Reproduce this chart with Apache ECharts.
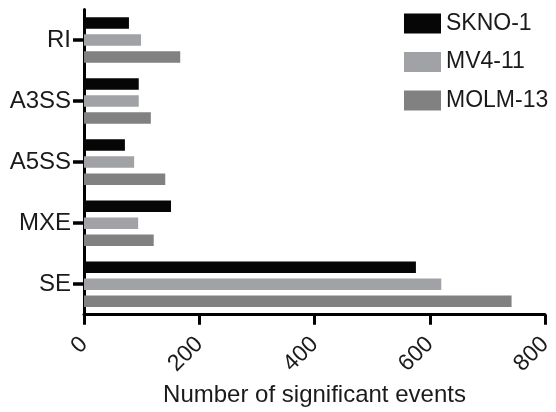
<!DOCTYPE html>
<html>
<head>
<meta charset="utf-8">
<script src="https://cdn.jsdelivr.net/npm/echarts@6/dist/echarts.min.js"></script>
<style>
  html, body { margin: 0; padding: 0; background: #fff; }
  #chart { width: 556px; height: 412px; }
</style>
</head>
<body>
<div id="chart"></div>
<script>
// Splicing event categories, listed top to bottom
const categories = ['RI', 'A3SS', 'A5SS', 'MXE', 'SE'];

// Number of significant events per cell line
const skno1  = [78, 95, 71, 151, 576];
const mv411  = [99, 95, 87, 94, 620];
const molm13 = [167, 116, 141, 121, 742];

const seriesNames = ['SKNO-1', 'MV4-11', 'MOLM-13'];
const xTicks = [0, 200, 400, 600, 800];

const FONT = 'Liberation Sans, Arial, Helvetica, sans-serif';
const TEXT = '#1a1a1a';
const colors = ['#060606', '#a1a2a6', '#818181'];

const chart = echarts.init(document.getElementById('chart'), null, { renderer: 'canvas' });

const axisLine = { show: true, lineStyle: { color: '#000', width: 3 } };

chart.setOption({
  animation: false,
  textStyle: { fontFamily: FONT },
  grid: { left: 84, right: 11, top: 9.5, bottom: 95.5, containLabel: false },
  legend: {
    orient: 'vertical',
    left: 404,
    top: 12,
    padding: 0,
    itemWidth: 37,
    itemHeight: 20,
    itemGap: 15.5,
    icon: 'rect',
    data: seriesNames,
    textStyle: { fontFamily: FONT, fontSize: 23, color: TEXT, lineHeight: 20 }
  },
  xAxis: {
    type: 'value',
    min: xTicks[0],
    max: xTicks[xTicks.length - 1],
    interval: 200,
    name: 'Number of significant events',
    nameLocation: 'middle',
    nameGap: 55,
    nameTextStyle: { fontFamily: FONT, fontSize: 24, color: TEXT },
    axisLine: axisLine,
    axisTick: { show: true, length: 10, lineStyle: { color: '#000', width: 3 } },
    axisLabel: { rotate: 45, margin: 26, fontFamily: FONT, fontSize: 23, color: TEXT },
    splitLine: { show: false }
  },
  yAxis: {
    type: 'category',
    data: categories,
    inverse: true,
    axisLine: axisLine,
    axisTick: { show: true, length: 11, alignWithLabel: true, lineStyle: { color: '#000', width: 3.5 } },
    axisLabel: { margin: 13, fontFamily: FONT, fontSize: 24, color: TEXT },
    splitLine: { show: false }
  },
  series: [
    { name: seriesNames[0], type: 'bar', data: skno1, barWidth: 11.5, barGap: '48%', itemStyle: { color: colors[0] } },
    { name: seriesNames[1], type: 'bar', data: mv411, barWidth: 11.5, barGap: '48%', itemStyle: { color: colors[1] } },
    { name: seriesNames[2], type: 'bar', data: molm13, barWidth: 11.5, barGap: '48%', itemStyle: { color: colors[2] } }
  ]
});
</script>
</body>
</html>
